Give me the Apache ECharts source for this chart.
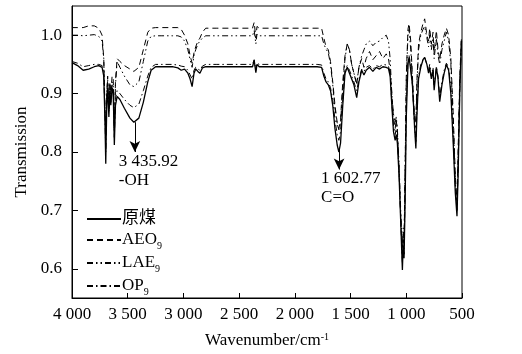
<!DOCTYPE html>
<html>
<head>
<meta charset="utf-8">
<script src="https://cdn.jsdelivr.net/npm/echarts@6/dist/echarts.min.js"></script>
<style>
html,body{margin:0;padding:0;background:#fff;}
#irchart{width:522px;height:354px;}
</style>
</head>
<body>
<div id="irchart"></div>
<script>
// wavenumber (cm-1) and transmission
var wavenumber = [4000,3950,3900,3850,3800,3760,3730,3715,3705,3697,3688,3680,3669,3660,3652,3640,3630,3620,3610,3595,3570,3530,3480,3445,3400,3360,3320,3290,3250,3200,3100,3050,3020,2990,2960,2940,2922,2905,2890,2870,2852,2830,2800,2700,2500,2380,2365,2350,2340,2320,2100,1800,1760,1740,1720,1700,1680,1660,1640,1620,1605,1590,1570,1550,1530,1510,1490,1470,1445,1425,1400,1380,1360,1330,1300,1270,1240,1210,1180,1160,1145,1130,1115,1100,1090,1080,1065,1050,1035,1028,1020,1010,1000,985,975,960,945,935,925,914,905,890,870,850,835,815,800,790,775,760,750,730,715,700,680,660,640,620,600,580,560,545,535,520,505];
var rawCoal = [0.953,0.948,0.940,0.942,0.946,0.948,0.945,0.930,0.860,0.780,0.880,0.910,0.860,0.905,0.880,0.910,0.900,0.812,0.880,0.895,0.890,0.875,0.858,0.851,0.858,0.885,0.920,0.940,0.946,0.946,0.946,0.944,0.940,0.942,0.935,0.925,0.912,0.935,0.942,0.938,0.935,0.944,0.946,0.946,0.946,0.946,0.957,0.936,0.950,0.946,0.946,0.946,0.945,0.930,0.920,0.915,0.905,0.880,0.840,0.812,0.800,0.815,0.880,0.935,0.945,0.935,0.925,0.915,0.893,0.920,0.940,0.932,0.940,0.945,0.938,0.945,0.942,0.946,0.945,0.943,0.930,0.880,0.835,0.820,0.830,0.815,0.760,0.680,0.598,0.640,0.618,0.720,0.860,0.950,0.962,0.940,0.915,0.880,0.840,0.806,0.860,0.925,0.945,0.958,0.962,0.950,0.935,0.945,0.925,0.940,0.906,0.945,0.925,0.886,0.915,0.935,0.950,0.940,0.900,0.820,0.730,0.690,0.760,0.900,0.990];
var aeo9 = [1.013,1.013,1.013,1.016,1.016,1.012,1.000,0.960,0.880,0.830,0.900,0.930,0.870,0.920,0.900,0.930,0.925,0.840,0.920,0.960,0.955,0.948,0.942,0.938,0.945,0.975,1.005,1.012,1.013,1.013,1.013,1.013,1.010,1.000,0.985,0.965,0.952,0.970,0.980,0.990,0.995,1.005,1.012,1.012,1.012,1.012,1.022,0.995,1.015,1.012,1.012,1.012,1.012,0.995,0.980,0.975,0.955,0.920,0.880,0.850,0.840,0.855,0.920,0.965,0.985,0.975,0.950,0.935,0.915,0.945,0.960,0.945,0.960,0.972,0.958,0.965,0.972,0.960,0.968,0.960,0.940,0.900,0.860,0.840,0.855,0.835,0.770,0.690,0.625,0.660,0.640,0.780,0.930,1.010,1.020,0.990,0.930,0.890,0.860,0.850,0.920,0.985,1.005,1.020,1.028,1.000,0.990,1.012,0.985,1.005,0.970,1.008,0.975,0.958,0.985,1.000,1.012,1.000,0.960,0.870,0.760,0.715,0.800,0.930,0.995];
var lae9 = [1.000,1.000,0.999,1.000,1.001,0.998,0.990,0.960,0.880,0.840,0.900,0.925,0.880,0.915,0.895,0.920,0.915,0.840,0.915,0.955,0.945,0.930,0.915,0.912,0.920,0.955,0.990,0.998,0.999,0.999,0.999,0.999,0.997,0.990,0.975,0.958,0.945,0.965,0.975,0.985,0.990,0.995,0.999,0.999,0.999,0.999,1.008,0.985,1.002,0.999,0.999,0.999,0.999,0.985,0.976,0.970,0.950,0.915,0.875,0.848,0.838,0.850,0.910,0.960,0.985,0.975,0.950,0.935,0.918,0.945,0.965,0.975,0.985,0.990,0.982,0.988,0.990,0.996,1.000,0.990,0.960,0.900,0.865,0.850,0.860,0.840,0.780,0.700,0.635,0.670,0.650,0.780,0.920,1.000,1.010,0.975,0.925,0.880,0.850,0.840,0.910,0.975,1.000,1.010,1.015,0.995,0.980,1.000,0.975,0.995,0.960,0.995,0.965,0.950,0.975,0.990,1.005,0.990,0.950,0.860,0.750,0.705,0.790,0.920,0.990];
var op9 = [0.955,0.952,0.946,0.948,0.950,0.950,0.948,0.935,0.870,0.800,0.890,0.915,0.870,0.905,0.885,0.915,0.905,0.825,0.890,0.905,0.900,0.890,0.880,0.876,0.882,0.905,0.930,0.945,0.950,0.950,0.950,0.949,0.947,0.946,0.940,0.932,0.925,0.940,0.945,0.942,0.940,0.947,0.950,0.950,0.950,0.950,0.958,0.940,0.952,0.950,0.950,0.950,0.949,0.935,0.925,0.920,0.910,0.890,0.855,0.830,0.820,0.835,0.890,0.940,0.948,0.940,0.930,0.920,0.905,0.925,0.942,0.938,0.945,0.948,0.942,0.948,0.946,0.950,0.949,0.947,0.935,0.885,0.845,0.830,0.840,0.825,0.765,0.685,0.610,0.650,0.625,0.740,0.880,0.955,0.965,0.945,0.915,0.880,0.845,0.815,0.870,0.930,0.950,0.958,0.962,0.950,0.940,0.950,0.930,0.945,0.915,0.945,0.930,0.895,0.920,0.940,0.952,0.945,0.910,0.830,0.740,0.700,0.770,0.905,0.990];
var yTicks = [0.6, 0.7, 0.8, 0.9, 1.0];
var seriesNames = ['原煤', 'AEO9', 'LAE9', 'OP9'];

var serif = 'Liberation Serif, Noto Sans CJK SC';

function pairs(vals){
    var out = [];
    for (var i = 0; i < wavenumber.length; i++) {
        out.push([wavenumber[i], vals[i]]);
    }
    return out;
}

function spectrum(name, vals, dash, width){
    return {
        name: name,
        type: 'line',
        data: pairs(vals),
        symbol: 'none',
        smooth: false,
        silent: true,
        itemStyle: { color: '#000' },
        lineStyle: { color: '#000', width: width, type: dash }
    };
}

var coal = spectrum(seriesNames[0], rawCoal, 'solid', 1.3);
// peak arrows and labels
coal.markLine = {
    silent: true,
    symbol: ['none', 'arrow'],
    symbolSize: [8, 11],
    label: { show: false },
    lineStyle: { color: '#000', width: 1, type: 'solid' },
    data: [
        [{ coord: [3436, 0.851] }, { coord: [3436, 0.800] }],
        [{ coord: [1603, 0.806] }, { coord: [1603, 0.770] }]
    ]
};
coal.markPoint = {
    silent: true,
    symbol: 'circle',
    symbolSize: 0,
    label: {
        show: true, position: 'inside', align: 'left', verticalAlign: 'top',
        color: '#000', fontFamily: serif, fontSize: 17, lineHeight: 19
    },
    data: [
        { coord: [3436, 0.800], label: { formatter: '3 435.92\n-OH', offset: [-16, 0] } },
        { coord: [1603, 0.770], label: { formatter: '1 602.77\nC=O', offset: [-18, 0] } }
    ]
};

var chart = echarts.init(document.getElementById('irchart'));
var option = {
    animation: false,
    backgroundColor: '#fff',
    grid: { left: 72, right: 60, top: 6, bottom: 55, show: true, borderColor: '#000', borderWidth: 1 },
    legend: {
        orient: 'vertical',
        left: 86, top: 210, padding: 0,
        itemWidth: 34, itemHeight: 12, itemGap: 3,
        data: seriesNames,
        itemStyle: { opacity: 0 },
        textStyle: {
            color: '#000', fontFamily: serif, fontSize: 17, lineHeight: 18, padding: [0, 0, 0, -4],
            rich: { sub: { fontFamily: serif, fontSize: 10, verticalAlign: 'bottom', lineHeight: 17, padding: [0, 0, -2, 0] } }
        },
        formatter: function(name){
            if (name === '原煤') return name;
            return name.slice(0, -1) + '{sub|' + name.slice(-1) + '}';
        }
    },
    xAxis: {
        type: 'value', inverse: true, min: 500, max: 4000, interval: 500,
        name: 'Wavenumber/cm{sup|-1}', nameLocation: 'middle', nameGap: 34,
        nameTextStyle: {
            color: '#000', fontFamily: serif, fontSize: 17,
            rich: { sup: { fontFamily: serif, fontSize: 10, verticalAlign: 'top', lineHeight: 12 } }
        },
        axisLine: { lineStyle: { color: '#000', width: 1 } },
        axisTick: { inside: true, length: 5, lineStyle: { color: '#000' } },
        axisLabel: {
            color: '#000', fontFamily: serif, fontSize: 17, margin: 8,
            formatter: function(v){
                return v >= 1000 ? Math.floor(v / 1000) + ' ' + String(v % 1000 + 1000).slice(1) : String(v);
            }
        },
        splitLine: { show: false }
    },
    yAxis: {
        type: 'value', min: 0.55, max: 1.05,
        name: 'Transmission', nameLocation: 'middle', nameGap: 35, nameRotate: 90,
        nameTextStyle: { color: '#000', fontFamily: serif, fontSize: 17 },
        axisLine: { show: true, lineStyle: { color: '#000', width: 1 } },
        axisTick: { show: true, inside: true, length: 6, customValues: yTicks, lineStyle: { color: '#000' } },
        axisLabel: {
            color: '#000', fontFamily: serif, fontSize: 17, margin: 10,
            customValues: yTicks,
            formatter: function(v){ return v.toFixed(1); }
        },
        splitLine: { show: false }
    },
    series: [
        coal,
        spectrum(seriesNames[1], aeo9, [6, 4], 1),
        spectrum(seriesNames[2], lae9, [6, 3, 1.5, 3, 1.5, 3], 1),
        spectrum(seriesNames[3], op9, [6, 3, 1.5, 3], 1)
    ]
};
chart.setOption(option);
</script>
</body>
</html>
